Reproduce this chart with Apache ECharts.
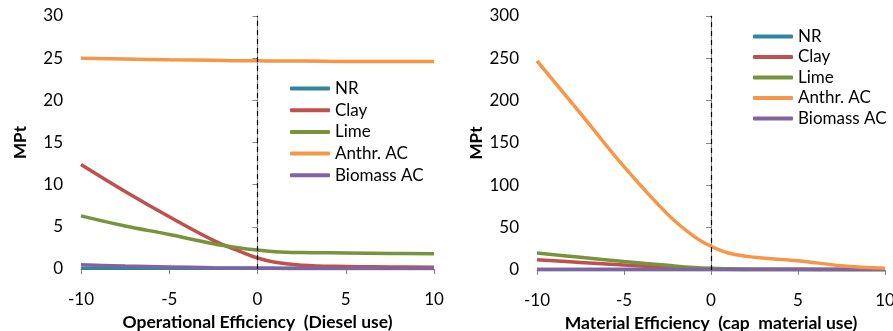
<!DOCTYPE html>
<html><head><meta charset="utf-8">
<script src="https://cdn.jsdelivr.net/npm/echarts@6/dist/echarts.min.js"></script>
<style>html,body{margin:0;padding:0;background:#fff}#c{width:893px;height:331px}</style>
</head><body><div id="c"></div>
<script>
const seriesNames = ['NR','Clay','Lime','Anthr. AC','Biomass AC'];
const colors = ['#31859C','#C0504D','#77933C','#F79646','#8064A2'];
const xTicks = [-10,-5,0,5,10];

// Left chart: Operational Efficiency (Diesel use)
const opX = [-10,-7.5,-5,-2.5,-1,0,1,2.5,5,7.5,10];
const opNR =      [0.1,0.1,0.1,0.1,0.1,0.1,0.1,0.1,0.1,0.1,0.1];
const opClay =    [12.4,9.2,6.2,3.4,2.1,1.3,0.8,0.45,0.3,0.25,0.2];
const opLime =    [6.3,5.1,4.1,3.0,2.5,2.25,2.05,1.95,1.9,1.85,1.8];
const opAnthr =   [25.0,24.9,24.8,24.75,24.7,24.7,24.65,24.65,24.6,24.6,24.6];
const opBiomass = [0.5,0.35,0.25,0.15,0.12,0.1,0.08,0.07,0.05,0.05,0.05];

// Right chart: Material Efficiency (cap material use)
const meX = [-10,-7.5,-5,-2.5,-1,0,1,2.5,5,7.5,10];
const meNR =      [0.5,0.5,0.5,0.5,0.5,0.5,0.5,0.5,0.5,0.5,0.5];
const meClay =    [12,9,6,3,1.8,1,0.8,0.6,0.5,0.5,0.5];
const meLime =    [20,15,10,5.5,3,2,1.5,1,0.8,0.6,0.5];
const meAnthr =   [247,185,122,66,40,28,20,15,11,5,2];
const meBiomass = [0.5,0.5,0.5,0.5,0.5,0.5,0.5,0.5,0.5,0.5,0.5];

const opData = [opNR,opClay,opLime,opAnthr,opBiomass];
const meData = [meNR,meClay,meLime,meAnthr,meBiomass];

const FONT = 'Lato';
function xAxisCfg(idx, name){
  return {type:'value', gridIndex:idx, min:-10, max:10, interval:5, name:name,
    nameLocation:'middle', nameGap:42,
    nameTextStyle:{fontFamily:FONT, fontWeight:'bold', fontSize:17.5, color:'#000'},
    axisLine:{onZero:false, lineStyle:{color:'#868686', width:1}},
    axisTick:{show:true, inside:false, length:5, lineStyle:{color:'#868686'}},
    axisLabel:{fontFamily:FONT, fontSize:17, color:'#000', margin:22},
    splitLine:{show:false}};
}
function yAxisCfg(idx, max, interval){
  return {type:'value', gridIndex:idx, min:0, max:max, interval:interval, name:'MPt',
    nameLocation:'middle', nameGap:52,
    nameTextStyle:{fontFamily:FONT, fontWeight:'bold', fontSize:17, color:'#000'},
    axisLine:{show:true, lineStyle:{color:'#868686', width:1}},
    axisTick:{show:true, inside:false, length:5, lineStyle:{color:'#868686'}},
    axisLabel:{fontFamily:FONT, fontSize:17, color:'#000', margin:18},
    splitLine:{show:false}};
}
function makeSeries(xs, data, idx){
  return data.map((d,i)=>{
    const s = {name:seriesNames[i], type:'line', xAxisIndex:idx, yAxisIndex:idx,
      data: xs.map((x,j)=>[x,d[j]]), smooth:0.4, showSymbol:false, symbol:'none',
      lineStyle:{color:colors[i], width:3.5}, itemStyle:{color:colors[i]}, z: i===3?3:2, animation:false};
    if(i===0){
      s.markLine = {silent:true, symbol:'none', label:{show:false},
        lineStyle:{color:'#000', type:[5,4], width:1.2}, data:[{xAxis:0}]};
    }
    return s;
  });
}
function legendCfg(left, top, gap){
  return {orient:'vertical', left:left, top:top, itemWidth:40, itemHeight:4, itemGap:gap,
    icon:'roundRect', data:seriesNames,
    textStyle:{fontFamily:FONT, fontSize:17, color:'#000', lineHeight:17}};
}
const chart = echarts.init(document.getElementById('c'), null, {renderer:'canvas'});
chart.setOption({
  animation:false,
  color:colors,
  grid:[{left:81, top:16, width:353, height:253, containLabel:false, outerBoundsMode:'none'},
        {left:537, top:16, width:348, height:254, containLabel:false, outerBoundsMode:'none'}],
  xAxis:[xAxisCfg(0,'Operational Efficiency  (Diesel use)'), xAxisCfg(1,'Material Efficiency  (cap  material use)')],
  yAxis:[yAxisCfg(0,30,5), yAxisCfg(1,300,50)],
  legend:[legendCfg(285,75,4.7), legendCfg(748,23,3.5)],
  series:[...makeSeries(opX,opData,0), ...makeSeries(meX,meData,1)]
});
</script></body></html>
